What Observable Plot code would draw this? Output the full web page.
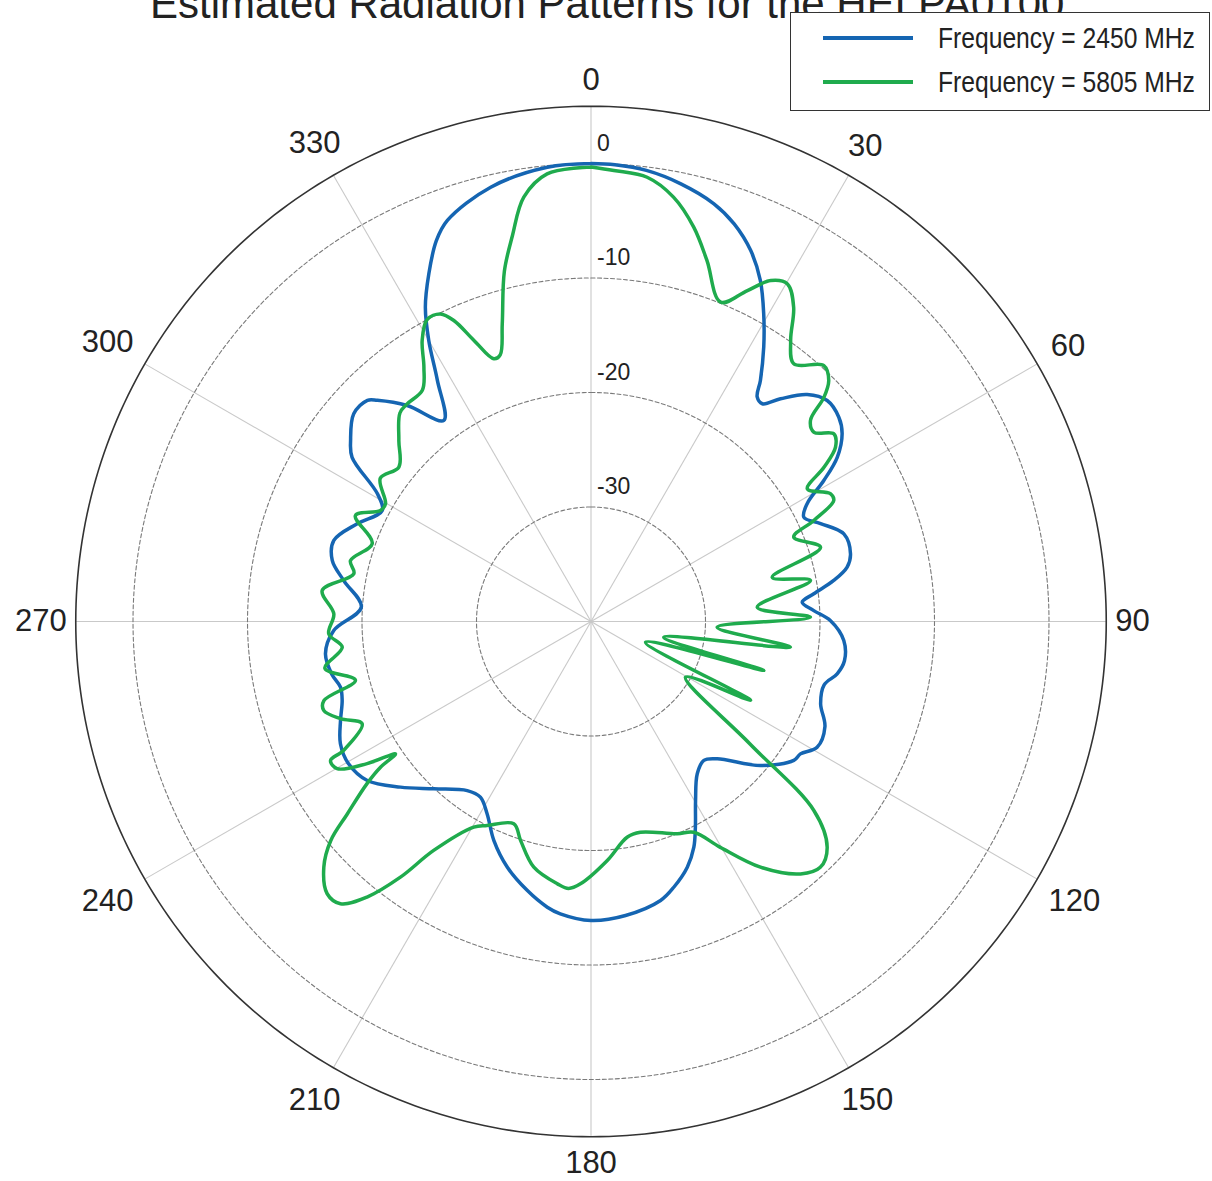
<!DOCTYPE html>
<html>
<head>
<meta charset="utf-8">
<script src="https://cdn.jsdelivr.net/npm/d3@7"></script>
<script src="https://cdn.jsdelivr.net/npm/@observablehq/plot@0.6"></script>
<style>
  html, body { margin: 0; padding: 0; background: #fff; }
  #wrap { position: relative; width: 1212px; height: 1181px; overflow: hidden; background: #fff; }
  #chart { position: absolute; left: 0; top: 0; }
  #title { position: absolute; left: 150px; top: -17px; white-space: nowrap;
           font: 42px/42px "Liberation Sans", Arial, sans-serif; color: #222; }
  #legend { position: absolute; left: 790px; top: 12px; width: 418px; height: 97px;
            border: 1.3px solid #333; background: #fff; }
  .sw { position: absolute; left: 32px; width: 90px; height: 3.6px; }
  .lt { position: absolute; left: 147px; height: 30px; line-height: 30px; white-space: nowrap;
        font-family: "Liberation Sans", Arial, sans-serif; font-size: 29px; color: #222;
        transform: scaleX(0.85); transform-origin: 0 50%; }
</style>
</head>
<body>
<div id="wrap">
  <div id="chart"></div>
  <div id="title"></div>
  <div id="legend"></div>
</div>
<script>
// ---------------- data ----------------
const titleText = "Estimated Radiation Patterns for the HELPA0100";
const seriesNames = ["Frequency = 2450 MHz", "Frequency = 5805 MHz"];
const seriesColors = ["#1565b2", "#1fab4d"];

const angles2450 = [0, 3, 7, 11.6, 16.4, 19.8, 23.3, 26.4, 29.3, 32.2, 35.1, 36.5, 38.2, 40.4, 43.6, 46.9, 50.5, 53.2, 56.3, 58.8,
  61.4, 63.9, 66.9, 70.9, 75.4, 78, 80.4, 82.9, 84.8, 87.2, 89.8, 94.3, 98.8, 102, 105.2, 109.7, 114.2, 119.1, 122.3, 124.4,
  130.4, 137.4, 140.9, 145.1, 149.7, 153.1, 155.5, 158.6, 162.7, 166, 173.3, 180, 186, 188.7, 193.3, 198.8, 203.9, 208.4, 212.2, 216.2,
  223.2, 229, 234.6, 239.6, 244, 248.4, 252.4, 255.3, 258.5, 263.1, 268, 273.6, 279.4, 283.3, 287.5, 292.7, 298, 300.9, 304.5, 307,
  311.2, 314.7, 316, 319.6, 323.8, 327.5, 330, 332.2, 335, 337.9, 340.3, 347, 354.5, 360];
const gain2450 = [0, -0.06, -0.31, -0.98, -1.97, -3.09, -4.73, -6.74, -9.18, -11.69, -14.27, -15.6, -15.8, -14.46, -12.62, -11.75, -11.95, -12.61, -14.15, -16.23,
  -18.5, -19.3, -18.2, -16.63, -16.58, -17.13, -18.5, -20.39, -21.48, -20.52, -19.08, -17.86, -17.6, -18.02, -18.9, -18.7, -17.6, -17.4, -18.36, -18.53,
  -20.58, -23.71, -24.37, -23.78, -21.9, -19.85, -18.34, -16.95, -15.69, -14.89, -14.15, -13.89, -14.33, -14.76, -15.85, -17.33, -19.07, -20.92, -21.87, -21.7,
  -19.95, -17.95, -16.03, -15.45, -15.65, -16.47, -17.2, -17.38, -16.9, -16.64, -17.52, -19.9, -18.11, -16.78, -16.45, -17.87, -19.35, -18.25, -14.68, -13.71,
  -12.46, -12.53, -13.14, -15.23, -18.24, -15.03, -11.66, -8.98, -6.49, -4.1, -2.79, -1.07, -0.14, 0];

const angles5805 = [0, 2.9, 7.2, 11, 14.6, 17.8, 22.1, 25.3, 27.8, 30.2, 32.8, 35.4, 38.2, 42.3, 44.6, 46.1, 47.5, 49.7, 52.3, 54.5,
  56.5, 58.5, 61.9, 63.5, 65.6, 67.4, 72.1, 76.3, 79.4, 85.1, 88.9, 92.6, 97.3, 102.2, 105.8, 110.8, 116.3, 120.5, 127.6, 130.3, 133.7,
  137, 140.3, 145.4, 150.2, 154, 157.9, 166.8, 170.5, 176.1, 182.3, 184.8, 187.3, 193.1, 197.8, 200.9, 207, 209.7, 214.5, 216.7, 219.1,
  221.6, 224.1, 227.4, 229.9, 231.7, 234.1, 235.3, 235.9, 237.6, 239.9, 241.9, 242.5, 245.9, 248.8, 251.6, 253.5, 256, 260, 264.1, 267.3,
  271.7, 276.6, 281.4, 284.2, 289.6, 294.2, 297.8, 299.8, 304.2, 308.8, 313.3, 317.5, 319.8, 323.9, 326.7, 329, 331.5, 333.9, 335.5, 337.4,
  339.7, 341.2, 343.4, 346.1, 348.5, 351, 354.4, 360];
const gain5805 = [-0.3, -0.56, -0.89, -2.24, -4.41, -6.88, -9.9, -8.03, -6.34, -5.89, -7.33, -9.9, -11.36, -9.78, -10.43, -11.77, -14, -14.46, -13.2, -13.77,
  -15.6, -17.84, -16.3, -16.31, -18.63, -20.82, -18.93, -23.71, -20.5, -25.43, -20.83, -28.97, -22.44, -33.5, -24.31, -34.9, -24.45, -30.42, -22.5, -14.48, -11.47,
  -10.64, -11.35, -13.93, -17.27, -19.52, -19.99, -21.1, -20.9, -19.08, -17.07, -16.6, -16.9, -17.97, -19.9, -21.09, -20.01, -19.33, -15.74, -12.15, -8.99,
  -7.04, -6.89, -8.3, -10.28, -12.88, -15.85, -17.64, -19.38, -16.84, -14.37, -14.21, -15.65, -18.11, -16.53, -15.4, -15.67, -18.8, -16.4, -18.16, -17.07,
  -17.53, -16.37, -18.87, -18.33, -19.72, -17.44, -19.21, -19.32, -17.75, -18.47, -16.94, -15.3, -15.12, -15, -13.42, -11.37, -10, -10.09, -11.11, -13.41,
  -15.54, -15.4, -12.87, -8.5, -5.6, -2.48, -0.72, -0.3];

const angleTicks = [0, 30, 60, 90, 120, 150, 180, 210, 240, 270, 300, 330];
const ringTicks = [0, -10, -20, -30];
const gainMin = -40, gainMax = 5;

// ---------------- layout ----------------
const W = 1212, H = 1181;
const cx = 590.5, cy = 621;       // pole position in px
const pxPerDb = 11.45;           // 114.5 px per 10 dB
const rad = d => d * Math.PI / 180;
const px = (a, g) => (g - gainMin) * Math.sin(rad(a));
const py = (a, g) => (g - gainMin) * Math.cos(rad(a));

const data = [];
[[angles2450, gain2450], [angles5805, gain5805]].forEach(([A, G], k) => {
  A.forEach((a, i) => data.push({series: seriesNames[k], angle: a, gain: G[i]}));
});

const circlePts = v => d3.range(0, 361, 1).map(a => ({ring: v, angle: a, gain: v}));
const rings = ringTicks.flatMap(circlePts);
const outer = circlePts(gainMax);

// angle label placement (outside the outer circle)
const angFont = 31;
const labelR = a => {
  const w = String(a).length * 0.556 * angFont, h = 0.72 * angFont;
  const s = Math.abs(Math.sin(rad(a))), c = Math.abs(Math.cos(rad(a)));
  const extra = 15 + s * w / 2 + c * h / 2 - (s > 0.99 ? 6 : 0);
  return (gainMax - gainMin) + extra / pxPerDb;
};

const chart = Plot.plot({
  width: W, height: H, margin: 0,
  style: {fontFamily: "'Liberation Sans', Arial, sans-serif", background: "transparent"},
  x: {domain: [-cx / pxPerDb, (W - cx) / pxPerDb], axis: null},
  y: {domain: [-(H - cy) / pxPerDb, cy / pxPerDb], axis: null},
  color: {domain: seriesNames, range: seriesColors},
  marks: [
    Plot.link(angleTicks, {x1: 0, y1: 0, x2: a => px(a, gainMax), y2: a => py(a, gainMax),
      stroke: "#c9c9c9", strokeWidth: 1.1}),
    Plot.line(rings, {x: d => px(d.angle, d.gain), y: d => py(d.angle, d.gain), z: "ring",
      stroke: "#7a7a7a", strokeWidth: 1.1, strokeDasharray: "4,2.5"}),
    Plot.line(outer, {x: d => px(d.angle, d.gain), y: d => py(d.angle, d.gain),
      stroke: "#333", strokeWidth: 1.6}),
    Plot.line(data, {x: d => px(d.angle, d.gain), y: d => py(d.angle, d.gain), z: "series",
      stroke: "series", strokeWidth: 3.5, strokeLinejoin: "round", curve: "catmull-rom"}),
    Plot.text(ringTicks, {x: 0, y: v => v - gainMin, text: v => String(v), dx: 6, dy: -13,
      textAnchor: "start", lineAnchor: "bottom", fontSize: 23, fill: "#222"}),
    Plot.text(angleTicks, {x: a => labelR(a) * Math.sin(rad(a)), y: a => labelR(a) * Math.cos(rad(a)),
      text: a => String(a), fontSize: angFont, fill: "#222", lineAnchor: "middle"})
  ]
});
document.getElementById("chart").appendChild(chart);

// title and legend
document.getElementById("title").textContent = titleText;
const leg = document.getElementById("legend");
const rowsY = [25, 69]; // row centres inside the box
seriesNames.forEach((name, i) => {
  const sw = document.createElement("div");
  sw.className = "sw"; sw.style.top = (rowsY[i] - 1.8) + "px"; sw.style.background = seriesColors[i];
  const t = document.createElement("div");
  t.className = "lt"; t.style.top = (rowsY[i] - 15) + "px"; t.textContent = name;
  leg.appendChild(sw); leg.appendChild(t);
});
</script>
</body>
</html>
